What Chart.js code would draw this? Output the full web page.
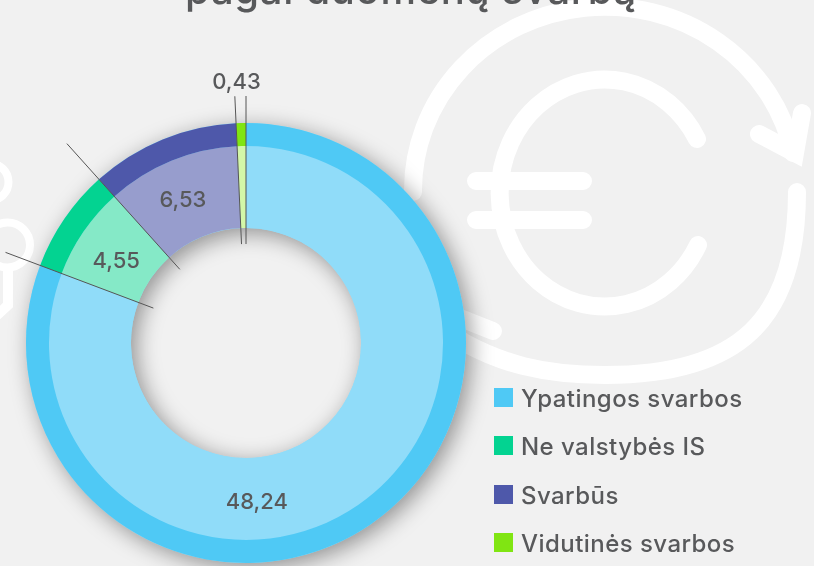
<!DOCTYPE html>
<html>
<head>
<meta charset="utf-8">
<script src="https://cdn.jsdelivr.net/npm/chart.js@4"></script>
<style>
    html, body { margin: 0; padding: 0; background: #f1f1f1; overflow: hidden; }
    #page { position: relative; width: 814px; height: 566px; overflow: hidden; font-family: Inter, sans-serif; color: #58595b; }
    #page svg, #page canvas { position: absolute; left: 0; top: 0; }
    #title { position: absolute; left: 0; width: 822px; top: -30px; text-align: center; font-size: 40px; line-height: 40px; font-weight: 500; letter-spacing: 0.7px; white-space: nowrap; }
    .legend-row { position: absolute; left: 494px; height: 19px; display: flex; align-items: center; font-size: 24px; font-weight: 500; letter-spacing: 0.45px; white-space: nowrap; }
    .legend-row i { display: block; width: 19px; height: 19px; margin-right: 8px; }
    .legend-row span { position: relative; top: 1px; }
</style>
</head>
<body>
<div id="page">
    <svg width="814" height="566" fill="none" stroke="#fff" stroke-linecap="round">
        <g stroke-width="18">
            <path d="M413 192 A192 183.5 0 0 1 793 153"/>
            <path d="M797 192 C797 320 739 375 605 375 C540 375 500 362 465 343 L440 325"/>
            <path d="M802 113 L795 153 L759 134"/>
            <path d="M697 139 A105 113.5 0 1 0 698 245"/>
            <path d="M476 181 H583 M476 220 H583"/>
            <path d="M493 331 L440 310"/>
        </g>
        <g stroke-width="8">
            <circle cx="-10" cy="182" r="18.5"/>
            <circle cx="7.5" cy="245" r="22.5"/>
            <path d="M8 268 V305 L-8 320" stroke-width="10" stroke-linecap="butt"/>
        </g>
    </svg>
    <canvas id="donutChart" width="814" height="566"></canvas>
    <div id="title">pagal duomenų svarbą</div>
    <div id="legend"></div>
</div>
<script>
const categories = ['Ypatingos svarbos', 'Ne valstybės IS', 'Svarbūs', 'Vidutinės svarbos'];
const values = [48.24, 4.55, 6.53, 0.43];
const valueLabels = ['48,24', '4,55', '6,53', '0,43'];
const outerColors = ['#4fc9f5', '#03d391', '#4e58aa', '#80e512'];
const innerColors = ['#90dcf9', '#85e9c7', '#979dcd', '#d3f7a8'];

// Hand placed in the original, so nudge from the slice center
const labelOffsets = [[-78, 31], [-1, 6], [-4, 2], [-6, -105]];
// How far each leader line reaches out from the center
const leaderLengths = [247, 257, 268, 247];

// Soft shadow under the whole ring
const ringShadow = {
    id: 'ringShadow',
    beforeDatasetsDraw(chart) {
        const ctx = chart.ctx;
        const outer = chart.getDatasetMeta(0).data[0];
        const inner = chart.getDatasetMeta(1).data[0];
        ctx.save();
        ctx.shadowColor = 'rgba(0, 0, 0, 0.4)';
        ctx.shadowBlur = 22;
        ctx.shadowOffsetX = 5;
        ctx.shadowOffsetY = 5;
        ctx.fillStyle = '#90dcf9';
        ctx.beginPath();
        ctx.arc(outer.x, outer.y, outer.outerRadius, 0, Math.PI * 2);
        ctx.arc(outer.x, outer.y, inner.innerRadius, Math.PI * 2, 0, true);
        ctx.fill();
        ctx.restore();
    }
};

// Leader lines along the slice edges, then the value labels
const sliceNotes = {
    id: 'sliceNotes',
    afterDatasetsDraw(chart) {
        const ctx = chart.ctx;
        const arcs = chart.getDatasetMeta(1).data;
        ctx.save();
        ctx.strokeStyle = '#555555';
        ctx.lineWidth = 1;
        arcs.forEach((arc, i) => {
            const angle = arc.startAngle;
            ctx.beginPath();
            ctx.moveTo(arc.x + Math.cos(angle) * 99, arc.y + Math.sin(angle) * 99);
            ctx.lineTo(arc.x + Math.cos(angle) * leaderLengths[i], arc.y + Math.sin(angle) * leaderLengths[i]);
            ctx.stroke();
        });
        ctx.restore();

        ctx.save();
        ctx.fillStyle = '#58595b';
        ctx.font = '500 22px Inter';
        ctx.textAlign = 'center';
        ctx.textBaseline = 'middle';
        arcs.forEach((arc, i) => {
            const p = arc.getCenterPoint();
            ctx.fillText(valueLabels[i], p.x + labelOffsets[i][0], p.y + labelOffsets[i][1]);
        });
        ctx.restore();
    }
};

new Chart(document.getElementById('donutChart'), {
    type: 'doughnut',
    data: {
        labels: categories,
        datasets: [
            { data: values, backgroundColor: outerColors, borderWidth: 0, weight: 23 },
            { data: values, backgroundColor: innerColors, borderWidth: 0, weight: 82 }
        ]
    },
    options: {
        responsive: false,
        animation: false,
        cutout: '52.3%',
        layout: { padding: { left: 26, right: 348, top: 123, bottom: 3 } },
        plugins: {
            legend: { display: false },
            tooltip: { enabled: false }
        }
    },
    plugins: [ringShadow, sliceNotes]
});

// Legend is plain html, rows sit at fixed spots like the original
const legend = document.getElementById('legend');
categories.forEach((name, i) => {
    const row = document.createElement('div');
    row.className = 'legend-row';
    row.style.top = (388 + i * 48.3) + 'px';
    const box = document.createElement('i');
    box.style.background = outerColors[i];
    const text = document.createElement('span');
    text.textContent = name;
    row.appendChild(box);
    row.appendChild(text);
    legend.appendChild(row);
});
</script>
</body>
</html>
